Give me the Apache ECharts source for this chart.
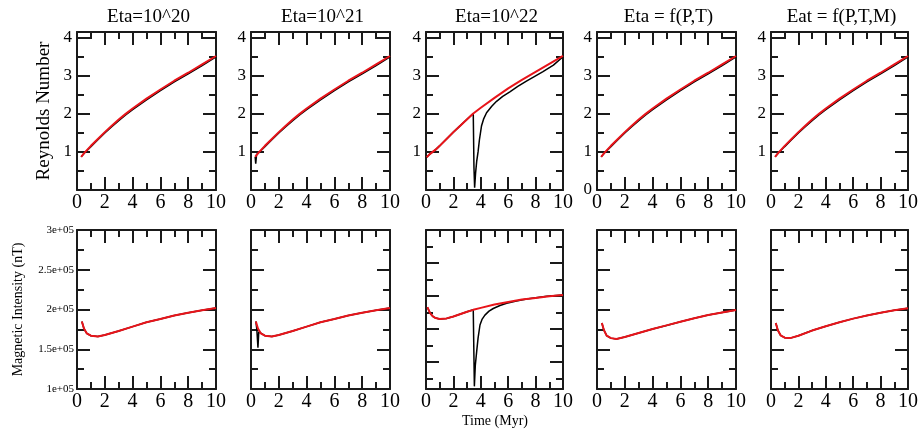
<!DOCTYPE html>
<html><head><meta charset="utf-8">
<script src="https://cdn.jsdelivr.net/npm/echarts@6/dist/echarts.min.js"></script>
<style>html,body{margin:0;padding:0;background:#fff}#c{width:924px;height:433px}</style>
</head><body><div id="c"></div>
<script>
// ---------- data ----------
const titles = ['Eta=10^20', 'Eta=10^21', 'Eta=10^22', 'Eta = f(P,T)', 'Eat = f(P,T,M)'];
const xMajorTicks = [0, 2, 4, 6, 8, 10];
const xMinorTicks = [1, 3, 5, 7, 9];
const reMajorTicks = [0, 1, 2, 3, 4];
const reMinorTicks = [0.5, 1.5, 2.5, 3.5];
const reLabels = [1, 2, 3, 4];
const reLabelsWithZero = [0, 1, 2, 3, 4];
const miMajorTicks = [1e5, 1.5e5, 2e5, 2.5e5, 3e5];
const miMinorTicks = [1.25e5, 1.75e5, 2.25e5, 2.75e5];
const miMinorTicks3 = [0.75e5, 1.25e5, 1.75e5, 2.25e5, 2.75e5];
const miLabels = [1e5, 1.5e5, 2e5, 2.5e5, 3e5];

// Reynolds number (top row)
const reX     = [0.3, 0.5, 0.7, 1, 1.5, 2, 2.5, 3, 3.5, 4, 5, 6, 7, 8, 9, 10];
const reRed   = [0.87, 0.96, 1.04, 1.16, 1.34, 1.52, 1.69, 1.85, 2.0, 2.14, 2.40, 2.64, 2.87, 3.08, 3.30, 3.52];
const reBlack = [0.87, 0.96, 1.03, 1.14, 1.32, 1.50, 1.66, 1.82, 1.97, 2.11, 2.37, 2.61, 2.84, 3.05, 3.27, 3.50];
const re2BlackX = [0.3, 0.34, 0.4, 0.5, 0.7, 1, 1.5, 2, 2.5, 3, 3.5, 4, 5, 6, 7, 8, 9, 10];
const re2BlackY = [0.87, 0.69, 0.93, 0.96, 1.03, 1.14, 1.32, 1.50, 1.66, 1.82, 1.97, 2.11, 2.37, 2.61, 2.84, 3.05, 3.27, 3.50];
const re3X   = [0.05, 0.3, 0.7, 1, 1.5, 2, 2.5, 3, 3.45, 4, 5, 6, 7, 8, 9, 10];
const re3Red = [0.86, 0.95, 1.06, 1.16, 1.34, 1.52, 1.69, 1.86, 2.01, 2.16, 2.42, 2.67, 2.89, 3.10, 3.31, 3.52];
const re3BlackX = [0.05, 0.3, 0.7, 1, 1.5, 2, 2.5, 3, 3.45, 3.5, 3.55, 3.62, 3.7, 3.8, 3.9, 4.05, 4.2, 4.42, 4.8, 5.15, 5.6, 6.12, 6.7, 7.33, 8, 8.54, 9.3, 10];
const re3BlackY = [0.86, 0.95, 1.06, 1.16, 1.34, 1.52, 1.69, 1.86, 2.01, 0.6, 0.06, 0.45, 0.75, 1.0, 1.32, 1.68, 1.86, 2.03, 2.2, 2.33, 2.46, 2.58, 2.72, 2.86, 3.0, 3.11, 3.28, 3.5];

// Magnetic intensity (bottom row, nT)
const miX   = [0.35, 0.5, 0.7, 1, 1.5, 2, 3, 4, 5, 6, 7, 8, 9, 10];
const miRed = [1.85e5, 1.76e5, 1.70e5, 1.67e5, 1.66e5, 1.68e5, 1.73e5, 1.785e5, 1.84e5, 1.88e5, 1.925e5, 1.96e5, 1.99e5, 2.02e5];
const mi2BlackX = [0.35, 0.42, 0.5, 0.56, 0.7, 1, 1.5, 2, 3, 4, 5, 6, 7, 8, 9, 10];
const mi2BlackY = [1.85e5, 1.75e5, 1.52e5, 1.72e5, 1.70e5, 1.67e5, 1.66e5, 1.68e5, 1.73e5, 1.785e5, 1.84e5, 1.88e5, 1.925e5, 1.96e5, 1.99e5, 2.02e5];
const mi3X   = [0.1, 0.3, 0.5, 0.7, 1, 1.5, 2, 3, 3.45, 4, 5, 6, 7, 8, 9, 10];
const mi3Red = [1.83e5, 1.74e5, 1.69e5, 1.665e5, 1.652e5, 1.66e5, 1.69e5, 1.76e5, 1.79e5, 1.82e5, 1.87e5, 1.91e5, 1.945e5, 1.97e5, 1.995e5, 2.015e5];
const mi3BlackX = [0.1, 0.3, 0.5, 0.7, 1, 1.5, 2, 3, 3.45, 3.49, 3.53, 3.6, 3.7, 3.8, 3.94, 4.1, 4.3, 4.6, 4.91, 5.4, 5.89, 6.6, 7.35, 8.8, 10];
const mi3BlackY = [1.83e5, 1.74e5, 1.69e5, 1.665e5, 1.652e5, 1.66e5, 1.69e5, 1.76e5, 1.79e5, 1.2e5, 0.63e5, 0.95e5, 1.16e5, 1.36e5, 1.56e5, 1.65e5, 1.71e5, 1.77e5, 1.81e5, 1.855e5, 1.89e5, 1.925e5, 1.955e5, 1.995e5, 2.015e5];
const mi45X  = [0.35, 0.5, 0.7, 1, 1.4, 2, 3, 4, 5, 6, 7, 8, 9, 10];
const mi4Red = [1.83e5, 1.74e5, 1.67e5, 1.64e5, 1.63e5, 1.655e5, 1.705e5, 1.755e5, 1.80e5, 1.845e5, 1.89e5, 1.93e5, 1.962e5, 1.994e5];
const mi5Red = [1.83e5, 1.74e5, 1.675e5, 1.645e5, 1.64e5, 1.67e5, 1.735e5, 1.79e5, 1.84e5, 1.885e5, 1.925e5, 1.96e5, 1.99e5, 2.015e5];

// ---------- chart ----------
const FONT = "'Liberation Serif','Times New Roman',serif";
const AX = '#1a1a1a';
const cols = [{left:77,width:139},{left:251,width:139},{left:426,width:137},{left:597,width:139},{left:771,width:137}];
const rows = [{top:32,height:158},{top:230,height:159}];
const grids = [], xAxes = [], yAxes = [], series = [];

function addAxisPair(list, gi, pos, min, max, major, minor, labels, fmt, lblSize, lblMargin) {
  const idx = list.length;
  list.push({type:'value', gridIndex:gi, position:pos, min:min, max:max, splitLine:{show:false},
    axisLine:{show:true, onZero:false, lineStyle:{color:AX, width:2}},
    axisTick:{show:true, inside:true, length:13, customValues:major, lineStyle:{color:AX, width:2}},
    axisLabel: labels ? {show:true, customValues:labels, formatter:fmt, fontFamily:FONT, fontSize:lblSize, color:'#000', margin:lblMargin} : {show:false}
  });
  list.push({type:'value', gridIndex:gi, position:pos, min:min, max:max, splitLine:{show:false},
    axisLine:{show:false, onZero:false},
    axisTick:{show:true, inside:true, length:7, customValues:minor, lineStyle:{color:AX, width:2}},
    axisLabel:{show:false}
  });
  return idx;
}
function pairs(xs, ys){ return xs.map((x, i) => [x, ys[i]]); }
function addLine(xi, yi, xs, ys, color, width, z) {
  series.push({type:'line', xAxisIndex:xi, yAxisIndex:yi, data:pairs(xs, ys), showSymbol:false, symbol:'none',
    smooth:false, lineStyle:{color:color, width:width}, z:z, silent:true, animation:false});
}
const miFmt = v => (v / 1e5) + 'e+05';

const topSeries = [
  {bx:reX, by:reBlack, rx:reX, ry:reRed},
  {bx:re2BlackX, by:re2BlackY, rx:reX, ry:reRed},
  {bx:re3BlackX, by:re3BlackY, rx:re3X, ry:re3Red},
  {bx:reX, by:reBlack, rx:reX, ry:reRed},
  {bx:reX, by:reBlack, rx:reX, ry:reRed}
];
const botSeries = [
  {bx:miX, by:miRed, rx:miX, ry:miRed},
  {bx:mi2BlackX, by:mi2BlackY, rx:miX, ry:miRed},
  {bx:mi3BlackX, by:mi3BlackY, rx:mi3X, ry:mi3Red},
  {bx:mi45X, by:mi4Red, rx:mi45X, ry:mi4Red},
  {bx:mi45X, by:mi5Red, rx:mi45X, ry:mi5Red}
];

for (let r = 0; r < 2; r++) {
  for (let c = 0; c < 5; c++) {
    const gi = grids.length;
    grids.push({left:cols[c].left, top:rows[r].top, width:cols[c].width, height:rows[r].height, containLabel:false, outerBoundsMode:'none'});
    const xi = addAxisPair(xAxes, gi, 'bottom', 0, 10, xMajorTicks, xMinorTicks, xMajorTicks, null, 20, 3);
    addAxisPair(xAxes, gi, 'top', 0, 10, xMajorTicks, xMinorTicks, null);
    let yi;
    if (r === 0) {
      yi = addAxisPair(yAxes, gi, 'left', 0, 4.15, reMajorTicks, reMinorTicks, c === 3 ? reLabelsWithZero : reLabels, null, 17, 5);
      addAxisPair(yAxes, gi, 'right', 0, 4.15, reMajorTicks, reMinorTicks, null);
    } else {
      const mn = c === 2 ? 0.59e5 : 1e5;
      const minor = c === 2 ? miMinorTicks3 : miMinorTicks;
      yi = addAxisPair(yAxes, gi, 'left', mn, 3e5, miMajorTicks, minor, c === 0 ? miLabels : null, miFmt, 11, 3);
      addAxisPair(yAxes, gi, 'right', mn, 3e5, miMajorTicks, minor, null);
    }
    const s = (r === 0 ? topSeries : botSeries)[c];
    addLine(xi, yi, s.bx, s.by, '#000000', 1.5, 2);
    addLine(xi, yi, s.rx, s.ry, '#e8141a', 2, 3);
  }
}

const graphics = [];
titles.forEach((t, c) => {
  graphics.push({type:'text', x:cols[c].left + cols[c].width / 2 + 2, y:17,
    style:{text:t, font:'19px ' + FONT, fill:'#000', align:'center', verticalAlign:'middle'}});
});
graphics.push({type:'text', x:44, y:111, rotation:Math.PI / 2,
  style:{text:'Reynolds Number', font:'19px ' + FONT, fill:'#000', align:'center', verticalAlign:'middle'}});
graphics.push({type:'text', x:18.5, y:309.5, rotation:Math.PI / 2,
  style:{text:'Magnetic Intensity (nT)', font:'14px ' + FONT, fill:'#000', align:'center', verticalAlign:'middle'}});
graphics.push({type:'text', x:495, y:421,
  style:{text:'Time (Myr)', font:'14px ' + FONT, fill:'#000', align:'center', verticalAlign:'middle'}});

const chart = echarts.init(document.getElementById('c'), null, {renderer:'canvas'});
chart.setOption({
  animation:false,
  backgroundColor:'#fff',
  grid:grids, xAxis:xAxes, yAxis:yAxes, series:series, graphic:graphics
});
</script>
</body></html>
